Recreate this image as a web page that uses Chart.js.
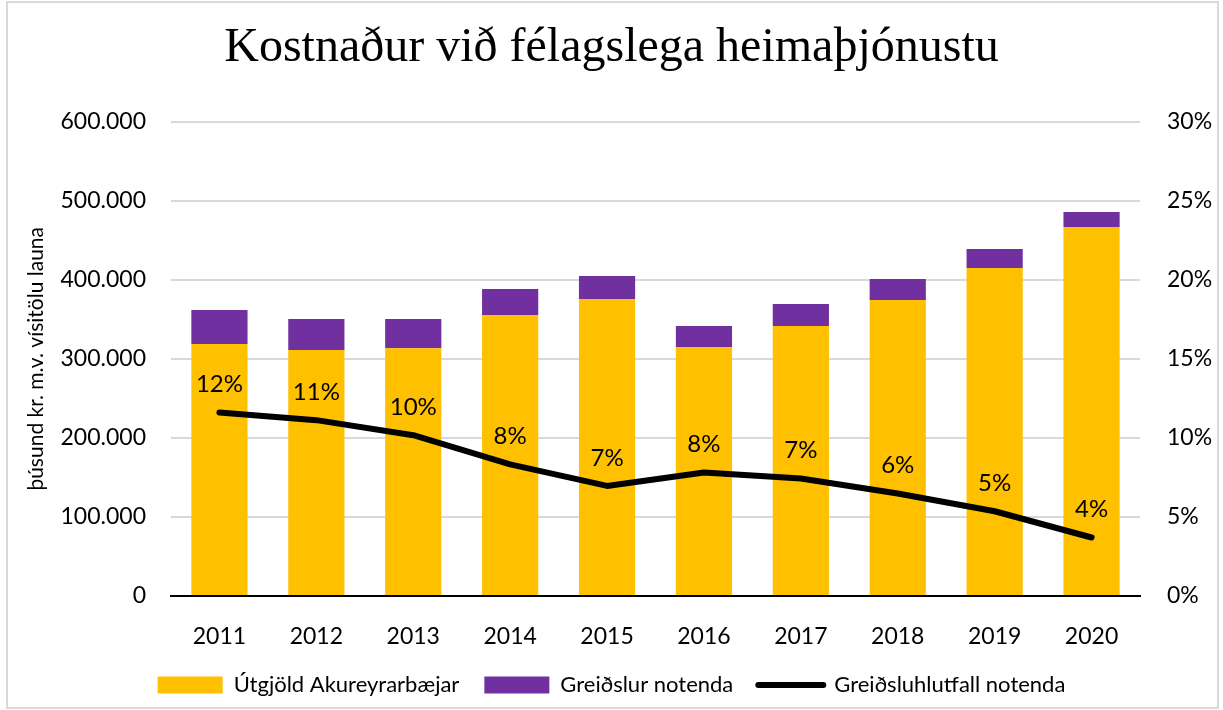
<!DOCTYPE html>
<html>
<head>
<meta charset="utf-8">
<script src="https://cdn.jsdelivr.net/npm/chart.js@4.4.1/dist/chart.umd.min.js"></script>
<style>
  html, body { margin: 0; padding: 0; background: #fff; }
  #wrap { position: relative; width: 1223px; height: 710px; }
  #frame { position: absolute; left: 6px; top: 1px; width: 1209px; height: 704px; border: 2px solid #d9d9d9; pointer-events: none; }
</style>
</head>
<body>
<div id="wrap">
  <canvas id="c" width="1223" height="710"></canvas>
  <div id="frame"></div>
</div>
<script>
const years = ['2011','2012','2013','2014','2015','2016','2017','2018','2019','2020'];
const utgjold = [318600, 311000, 313500, 355300, 375600, 314800, 341400, 374300, 414800, 466700];
const greidslur = [43000, 39300, 36800, 32900, 29100, 26600, 27800, 26600, 24100, 19000];
const hlutfall = [11.6, 11.12, 10.17, 8.32, 6.96, 7.81, 7.43, 6.48, 5.36, 3.70];
const seriesNames = ['Útgjöld Akureyrarbæjar', 'Greiðslur notenda', 'Greiðsluhlutfall notenda'];
const chartTitle = 'Kostnaður við félagslega heimaþjónustu';
const leftAxisTitle = 'þúsund kr. m.v. vísitölu launa';

const FONT = 'Lato, Carlito, Calibri, sans-serif';

function fmtThousands(v) {
  return String(Math.round(v)).replace(/\B(?=(\d{3})+(?!\d))/g, '.');
}

const dataLabels = {
  id: 'dataLabels',
  afterDatasetsDraw(chart) {
    const meta = chart.getDatasetMeta(2);
    const ctx = chart.ctx;
    ctx.save();
    ctx.font = '24px ' + FONT;
    ctx.fillStyle = '#000';
    ctx.textAlign = 'center';
    ctx.textBaseline = 'middle';
    meta.data.forEach((pt, i) => {
      ctx.fillText(Math.round(hlutfall[i]) + '%', pt.x, pt.y - 28);
    });
    ctx.restore();
  }
};

new Chart(document.getElementById('c'), {
  data: {
    labels: years,
    datasets: [
      { type: 'bar', label: seriesNames[0], data: utgjold, backgroundColor: '#FFC000', borderWidth: 0, yAxisID: 'y', order: 1, stack: 's' },
      { type: 'bar', label: seriesNames[1], data: greidslur, backgroundColor: '#7030A0', borderWidth: 0, yAxisID: 'y', order: 2, stack: 's' },
      { type: 'line', label: seriesNames[2], data: hlutfall, borderColor: '#000', backgroundColor: '#000', borderWidth: 6, pointRadius: 0, tension: 0, borderCapStyle: 'round', borderJoinStyle: 'round', yAxisID: 'y1', order: 0 }
    ]
  },
  options: {
    responsive: false,
    animation: false,
    layout: { padding: { left: 0, right: 0, top: 0, bottom: 4 } },
    datasets: { bar: { barPercentage: 0.58, categoryPercentage: 1.0 } },
    plugins: {
      title: {
        display: true,
        text: chartTitle,
        color: '#000',
        font: { family: '"Liberation Serif", "Times New Roman", serif', size: 48, weight: 'normal' },
        padding: { top: 20, bottom: 44 }
      },
      legend: {
        position: 'bottom',
        labels: {
          color: '#000',
          font: { family: FONT, size: 22 },
          usePointStyle: true,
          pointStyleWidth: 65,
          boxHeight: 17,
          padding: 25,
          sort: (a, b) => a.datasetIndex - b.datasetIndex,
          generateLabels(chart) {
            return chart.data.datasets.map((ds, i) => ({
              text: ds.label,
              datasetIndex: i,
              fillStyle: ds.type === 'line' ? '#000' : ds.backgroundColor,
              strokeStyle: ds.type === 'line' ? '#000' : ds.backgroundColor,
              lineWidth: ds.type === 'line' ? 6 : 0,
              lineCap: 'round',
              pointStyle: ds.type === 'line' ? 'line' : 'rect',
              fontColor: '#000',
              hidden: false
            }));
          }
        }
      },
      tooltip: { enabled: false }
    },
    scales: {
      x: {
        stacked: true,
        grid: { display: false, drawTicks: false },
        border: { display: true, color: '#000', width: 2 },
        ticks: { color: '#000', font: { family: FONT, size: 23 }, padding: 27 },
        afterFit(s) { s.height = 53; }
      },
      y: {
        type: 'linear',
        position: 'left',
        stacked: true,
        min: 0, max: 600000,
        ticks: { stepSize: 100000, color: '#000', font: { family: FONT, size: 23 }, padding: 25, callback: v => fmtThousands(v) },
        grid: { color: c => c.tick && c.tick.value === 0 ? '#000' : '#d9d9d9', lineWidth: 2, drawTicks: false },
        border: { display: false },
        title: { display: true, text: leftAxisTitle, color: '#000', font: { family: FONT, size: 21 }, padding: { top: 24, bottom: 0 } },
        afterFit(s) { s.width = 171; }
      },
      y1: {
        type: 'linear',
        position: 'right',
        min: 0, max: 30,
        ticks: { stepSize: 5, color: '#000', font: { family: FONT, size: 23 }, padding: 27, callback: v => v + '%' },
        grid: { display: false, drawTicks: false },
        border: { display: false },
        afterFit(s) { s.width = 83; }
      }
    }
  },
  plugins: [dataLabels]
});
</script>
</body>
</html>
